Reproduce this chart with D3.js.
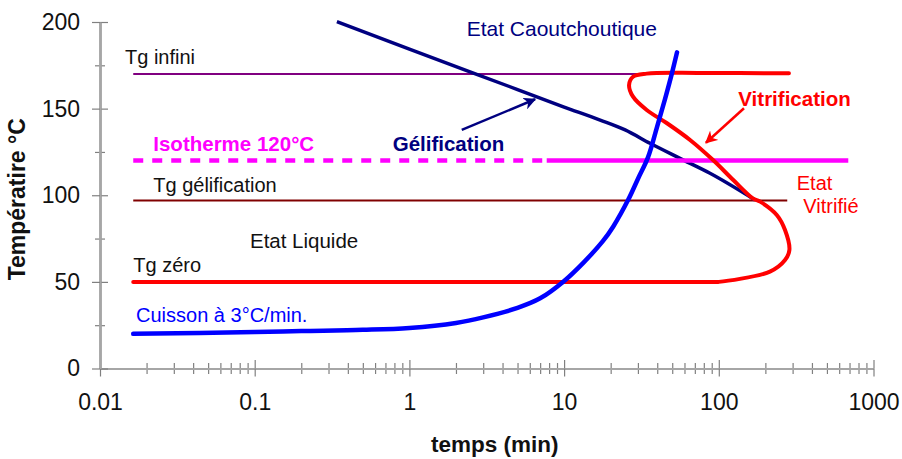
<!DOCTYPE html>
<html lang="fr">
<head>
  <meta charset="UTF-8">
  <title>Diagramme TTT</title>
  <script src="https://d3js.org/d3.v7.min.js"></script>
  <style>
    body {
      margin: 0;
      background: #fff;
      font-family: Arial, "Liberation Sans", sans-serif;
    }
    svg text {
      font-family: Arial, "Liberation Sans", sans-serif;
    }
  </style>
</head>
<body>
  <div id="chart"></div>

  <script>
    // niveaux horizontaux (°C)
    const tgInfini = 170, tgGel = 97, tgZero = 50, isotherme = 120;
    const tDebut = 0.0164;

    // cuisson à 3°C/min
    const cuissonTemps = [0.0164, 0.1, 0.2, 0.5, 1, 2, 3, 5, 7, 9.88, 13.3, 17.8, 20.8, 26, 30.2, 34.9, 39.9, 44.9, 49.8, 53.7];
    const cuissonTemp  = [20, 21, 21.6, 22.3, 23.4, 26.3, 29.5, 35, 40.5, 50.1, 61, 73.5, 82, 97.5, 110, 122, 139.5, 155.5, 170.5, 182.5];

    // courbe de gélification
    const gelTemps = [0.34, 1, 5, 10, 17.1, 24.8, 35.9, 56.1, 87.7, 171.5];
    const gelTemp  = [200.2, 184.4, 161.0, 150.9, 143.4, 137.7, 130, 121.3, 112.7, 97.3];

    // courbe de vitrification (part de Tg zéro)
    const vitriTemps = [0.0164, 50, 99, 100, 214, 268, 286, 268, 237, 185, 166, 124, 91.8, 65.2, 46.0, 34.2, 27.9, 26.3, 27.9, 34.2, 75.6, 284];
    const vitriTemp  = [50, 50, 50, 50, 55.9, 62.6, 68.4, 79.9, 88.6, 96.3, 98.2, 108.8, 120.3, 131.9, 141.7, 149.2, 156.9, 163.6, 168.4, 170.2, 170.6, 170.4];

    // isotherme : partie pointillée puis continue
    const isoPointille = [0.0164, 7.72];
    const isoContinu   = [7.72, 687];

    const xTicks = [0.01, 0.1, 1, 10, 100, 1000];
    const yTicks = [0, 50, 100, 150, 200];
    const yMinor = [25, 75, 125, 175];

    const margin = {top: 22, right: 28.5, bottom: 90.5, left: 100},
          width = 902 - margin.left - margin.right,
          height = 459 - margin.top - margin.bottom;

    const root = d3.select("#chart")
                   .append("svg")
                   .attr("width", 902)
                   .attr("height", 459);

    const defs = root.append("defs");
    [["navy", "#000080"], ["rouge", "#ff0000"]].forEach(([id, c]) => {
      defs.append("marker")
          .attr("id", "fleche-" + id)
          .attr("viewBox", "0 0 10 10")
          .attr("refX", 9)
          .attr("refY", 5)
          .attr("markerWidth", 5)
          .attr("markerHeight", 5)
          .attr("orient", "auto")
          .attr("markerUnits", "strokeWidth")
          .append("path")
          .attr("d", "M0,0 L10,5 L0,10 L3,5 z")
          .attr("fill", c);
    });

    const svg = root.append("g")
                    .attr("transform", `translate(${margin.left},${margin.top})`);

    const x = d3.scaleLog()
                .domain([0.01, 1000])
                .range([0, width]);

    const y = d3.scaleLinear()
                .domain([0, 200])
                .range([height, 0]);

    // axes
    const isDecade = d => Math.abs(Math.log10(d) - Math.round(Math.log10(d))) < 1e-6;
    const minorX = x.ticks().filter(d => !isDecade(d));

    const gx = svg.append("g").attr("transform", `translate(0,${height})`);
    gx.append("g").call(d3.axisBottom(x).tickValues(minorX).tickSize(5.5).tickSizeOuter(0).tickFormat(""));
    gx.append("g").call(d3.axisTop(x).tickValues(minorX).tickSize(5.5).tickSizeOuter(0).tickFormat(""));
    gx.append("g").call(d3.axisTop(x).tickValues(xTicks).tickSize(8.5).tickSizeOuter(0).tickFormat(""));
    gx.append("g").attr("class", "lab")
      .call(d3.axisBottom(x).tickValues(xTicks).tickSize(8).tickSizeOuter(0)
              .tickPadding(17).tickFormat(d3.format("~g")));

    const gy = svg.append("g");
    gy.append("g").call(d3.axisLeft(y).tickValues(yMinor).tickSize(5).tickSizeOuter(0).tickFormat(""));
    gy.append("g").call(d3.axisRight(y).tickValues(yMinor).tickSize(5).tickSizeOuter(0).tickFormat(""));
    gy.append("g").call(d3.axisRight(y).tickValues(yTicks).tickSize(8).tickSizeOuter(0).tickFormat(""));
    gy.append("g").attr("class", "lab")
      .call(d3.axisLeft(y).tickValues(yTicks).tickSize(8).tickSizeOuter(0).tickPadding(12));

    svg.selectAll(".domain").attr("stroke", "#a6a6a6").attr("stroke-width", 2);
    svg.selectAll(".tick line").attr("stroke", "#808080").attr("stroke-width", 1.2);
    svg.selectAll(".lab text")
       .style("font-size", "23px")
       .attr("fill", "#111");

    svg.append("text")
       .attr("x", x(10 ** 0.5) + 8)
       .attr("y", height + 83)
       .attr("text-anchor", "middle")
       .style("font-size", "22.5px")
       .style("font-weight", "bold")
       .attr("fill", "#111")
       .text("temps (min)");

    svg.append("text")
       .attr("transform", `translate(-75.5,${height / 2 + 4}) rotate(-90)`)
       .attr("text-anchor", "middle")
       .style("font-size", "23px")
       .style("font-weight", "bold")
       .attr("fill", "#111")
       .text("Températire °C");

    // courbes
    const lineLin = d3.line().x(d => x(d[0])).y(d => y(d[1]));
    const lineMono = d3.line().x(d => x(d[0])).y(d => y(d[1])).curve(d3.curveMonotoneX);
    const lineCR = d3.line().x(d => x(d[0])).y(d => y(d[1])).curve(d3.curveCatmullRom.alpha(0.5));
    const zip = (a, b) => a.map((v, i) => [v, b[i]]);

    const plot = svg.append("g");

    plot.append("path")
        .attr("d", lineLin([[tDebut, tgInfini], [40, tgInfini]]))
        .attr("fill", "none").attr("stroke", "#800080").attr("stroke-width", 2);

    plot.append("path")
        .attr("d", lineLin([[tDebut, tgGel], [277, tgGel]]))
        .attr("fill", "none").attr("stroke", "#800000").attr("stroke-width", 2);

    plot.append("path")
        .attr("d", lineMono(zip(gelTemps, gelTemp)))
        .attr("fill", "none").attr("stroke", "#000080").attr("stroke-width", 3.5)
        .attr("stroke-linejoin", "round");

    plot.append("path")
        .attr("d", lineLin(isoPointille.map(t => [t, isotherme])))
        .attr("fill", "none").attr("stroke", "#ff00ff").attr("stroke-width", 4.5)
        .attr("stroke-dasharray", "10,9");

    plot.append("path")
        .attr("d", lineLin(isoContinu.map(t => [t, isotherme])))
        .attr("fill", "none").attr("stroke", "#ff00ff").attr("stroke-width", 4.5);

    plot.append("path")
        .attr("d", lineCR(zip(vitriTemps, vitriTemp)))
        .attr("fill", "none").attr("stroke", "#ff0000").attr("stroke-width", 4)
        .attr("stroke-linecap", "round").attr("stroke-linejoin", "round");

    plot.append("path")
        .attr("d", lineCR(zip(cuissonTemps, cuissonTemp)))
        .attr("fill", "none").attr("stroke", "#0000ff").attr("stroke-width", 4.5)
        .attr("stroke-linecap", "round");

    // flèches
    const fleches = [
      {from: [2.18, 137.7], to: [6.49, 155.4], id: "navy", color: "#000080"},
      {from: [145.5, 150.2], to: [82.6, 130.3], id: "rouge", color: "#ff0000"}
    ];
    plot.selectAll(".fleche")
        .data(fleches)
        .enter()
        .append("path")
        .attr("class", "fleche")
        .attr("d", d => lineLin([d.from, d.to]))
        .attr("stroke", d => d.color)
        .attr("stroke-width", 2.5)
        .attr("fill", "none")
        .attr("marker-end", d => `url(#fleche-${d.id})`);

    // étiquettes
    const etiquettes = [
      {text: "Tg infini", t: 0.01451, T: 175.8, color: "#111", bold: false, size: 20},
      {text: "Isotherme 120°C", t: 0.0221, T: 125.7, color: "#ff00ff", bold: true, size: 20.5},
      {text: "Tg gélification", t: 0.0221, T: 101.6, color: "#111", bold: false, size: 20},
      {text: "Etat Liquide", t: 0.0932, T: 69.8, color: "#111", bold: false, size: 20.5},
      {text: "Tg zéro", t: 0.0164, T: 55.7, color: "#111", bold: false, size: 20},
      {text: "Cuisson à 3°C/min.", t: 0.0171, T: 27.0, color: "#0000ff", bold: false, size: 20},
      {text: "Etat Caoutchoutique", t: 2.345, T: 191.9, color: "#000080", bold: false, size: 21},
      {text: "Gélification", t: 0.78, T: 125.7, color: "#000080", bold: true, size: 20.5},
      {text: "Vitrification", t: 133.7, T: 151.5, color: "#ff0000", bold: true, size: 20.5},
      {text: "Etat", t: 319, T: 103.0, color: "#ff0000", bold: false, size: 20},
      {text: "Vitrifié", t: 352, T: 89.6, color: "#ff0000", bold: false, size: 20}
    ];

    svg.selectAll(".etiquette")
       .data(etiquettes)
       .enter()
       .append("text")
       .attr("class", "etiquette")
       .attr("x", d => x(d.t))
       .attr("y", d => y(d.T))
       .attr("fill", d => d.color)
       .style("font-size", d => d.size + "px")
       .style("font-weight", d => d.bold ? "bold" : "normal")
       .text(d => d.text);
  </script>
</body>
</html>
